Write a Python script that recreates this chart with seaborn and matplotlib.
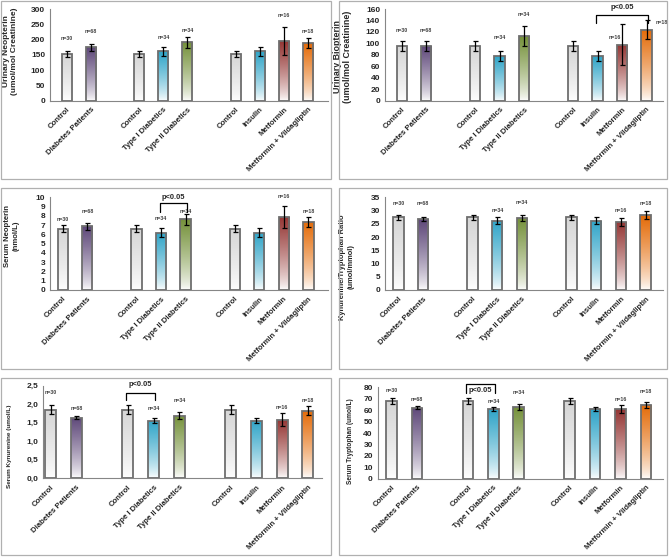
import numpy as np
import pandas as pd
import matplotlib
matplotlib.use('Agg')
import matplotlib.pyplot as plt
import seaborn as sns
from matplotlib.colors import LinearSegmentedColormap
from matplotlib.patches import Rectangle
from matplotlib.ticker import FuncFormatter

sns.set_theme(style='white')
plt.rcParams['font.family'] = ['Liberation Sans', 'DejaVu Sans']

# ---- data ----
bar_keys = ["ctrl_a", "dp", "ctrl_b", "t1", "t2", "ctrl_c", "ins", "met", "mv"]
slot_order = ["ctrl_a", "dp", "gap_a", "ctrl_b", "t1", "t2", "gap_b", "ctrl_c", "ins", "met", "mv"]
bar_labels = ["Control", "Diabetes Patients", "Control", "Type I Diabetics", "Type II Diabetics",
              "Control", "Insulin", "Metformin", "Metformin + Vildagliptin"]
n_text = ["n=30", "n=68", "", "n=34", "n=34", "", "", "n=16", "n=18"]

neopterin_urine = [153, 175, 153, 161, 192, 153, 161, 196, 188]
neopterin_urine_err = [10, 12, 10, 16, 18, 10, 16, 45, 17]
biopterin_urine = [96, 96, 96, 78, 113, 96, 78, 98, 124]
biopterin_urine_err = [9, 9, 9, 8, 18, 9, 8, 35, 17]
neopterin_serum = [6.62, 6.87, 6.62, 6.19, 7.63, 6.62, 6.19, 7.88, 7.34]
neopterin_serum_err = [0.35, 0.4, 0.35, 0.45, 0.6, 0.35, 0.45, 1.15, 0.55]
kyn_trp_ratio = [27.4, 26.7, 27.4, 26.1, 27.1, 27.4, 26.1, 25.7, 28.3]
kyn_trp_ratio_err = [1.1, 0.8, 1.1, 1.3, 1.1, 1.1, 1.3, 1.6, 1.6]
kyn_serum = [1.85, 1.64, 1.85, 1.55, 1.69, 1.85, 1.55, 1.58, 1.82]
kyn_serum_err = [0.12, 0.05, 0.12, 0.07, 0.1, 0.12, 0.07, 0.17, 0.12]
trp_serum = [68, 62.2, 68, 61, 62.8, 68, 61, 60.7, 64.8]
trp_serum_err = [3, 1.5, 3, 2, 2.5, 3, 2, 3.5, 2.5]

top_colors = {"ctrl_a": "#d6d6d6", "ctrl_b": "#d6d6d6", "ctrl_c": "#d6d6d6",
              "dp": "#5f497a", "t1": "#31a5c8", "ins": "#31a5c8",
              "t2": "#76923c", "met": "#953735", "mv": "#e46c0a"}

W, H = 669, 557

# layout per panel: axes box in px (left, right, top, bottom), xlim, label coords,
# n-label heights, brackets (from, to, top, leg bottom, text y)
panels = [
    dict(vals=neopterin_urine, errs=neopterin_urine_err, ylim=300, step=50,
         ylabel="Urinary Neopterin\n(umol/mol Creatinine)", lab_fs=6.0,
         box=(50, 328, 9, 100.7), xlim=(-0.70, 10.83), lab=(-0.115, 0.54),
         frame=(1, 331, 1, 179),
         n_y=[204, 228, None, 207, 229, None, None, 280, 228], n_dx={}, bracket=None),
    dict(vals=biopterin_urine, errs=biopterin_urine_err, ylim=160, step=20,
         ylabel="Urinary Biopterin\n(umol/mol Creatinine)", lab_fs=6.4,
         box=(385, 663, 9, 100.7), xlim=(-0.68, 10.67), lab=(-0.119, 0.48),
         frame=(339, 667, 1, 179),
         n_y=[123, 123, None, 110, 151, None, None, 110, 137], n_dx={"met": -0.3, "mv": 0.6},
         bracket=("ins", "mv", 150, 136, 163)),
    dict(vals=neopterin_serum, errs=neopterin_serum_err, ylim=10, step=1,
         ylabel="Serum Neopterin\n(nmol/L)", lab_fs=5.6,
         box=(50, 328, 197.3, 290), xlim=(-0.52, 10.8), lab=(-0.11, 0.58),
         frame=(1, 331, 188, 369),
         n_y=[7.6, 8.45, None, 7.7, 8.5, None, None, 10.1, 8.5], n_dx={},
         bracket=("t1", "t2", 9.35, 8.45, 10.0)),
    dict(vals=kyn_trp_ratio, errs=kyn_trp_ratio_err, ylim=35, step=5,
         ylabel="Kynurenine/Tryptophan Ratio\n(umol/mmol)", lab_fs=5.4,
         box=(385, 663, 197.3, 290), xlim=(-0.54, 10.7), lab=(-0.11, 0.25),
         frame=(339, 667, 188, 369),
         n_y=[32.5, 32.5, None, 30.2, 33.1, None, None, 30.2, 32.5], n_dx={}, bracket=None),
    dict(vals=kyn_serum, errs=kyn_serum_err, ylim=2.5, step=0.5,
         ylabel="Serum Kynurenine (umol/L)", comma=True, lab_fs=4.6,
         box=(43, 322, 385.7, 478.3), xlim=(-0.3, 10.55), lab=(-0.11, 0.35),
         frame=(1, 331, 378, 555),
         n_y=[2.31, 1.89, None, 1.89, 2.09, None, None, 1.92, 2.1], n_dx={},
         bracket=("ctrl_b", "t1", 2.31, 2.11, 2.52)),
    dict(vals=trp_serum, errs=trp_serum_err, ylim=80, step=10,
         ylabel="Serum Tryptophan (umol/L)", lab_fs=4.7,
         box=(377.7, 663, 387.3, 478.7), xlim=(-0.55, 10.67), lab=(-0.083, 0.41),
         frame=(339, 667, 378, 555),
         n_y=[77, 69.5, None, 68, 75.3, None, None, 69.5, 76.2], n_dx={},
         bracket=("ctrl_b", "t1", 82.6, 75.3, 77.0)),
]

fig = plt.figure(figsize=(W / 100, H / 100), dpi=100)
fig.patch.set_facecolor('white')
grad = (np.linspace(0, 1, 100) ** 0.75).reshape(-1, 1)
axis_gray = '#868686'

for spec in panels:
    x0, x1, y0, y1 = spec['frame']
    fig.add_artist(Rectangle((x0 / W, 1 - y1 / H), (x1 - x0) / W, (y1 - y0) / H,
                             transform=fig.transFigure, fill=False, ec='#b0b0b0', lw=0.9))
    l, r, t, b = spec['box']
    ax = fig.add_axes([l / W, 1 - b / H, (r - l) / W, (b - t) / H])

    df = pd.DataFrame({"group": bar_keys, "value": spec['vals']})
    sns.barplot(data=df, x="group", y="value", order=slot_order, hue="group",
                palette=top_colors, width=0.42, edgecolor='#6e6e6e', linewidth=1.3,
                legend=False, ax=ax)

    # map each bar to its key via its slot position
    centers = {}
    for p in ax.patches:
        cx = p.get_x() + p.get_width() / 2
        key = slot_order[int(round(cx))]
        centers[key] = cx
        cmap = LinearSegmentedColormap.from_list(key, ['#ffffff', top_colors[key]])
        im = ax.imshow(grad, extent=[p.get_x(), p.get_x() + p.get_width(), 0, p.get_height()],
                       origin='lower', aspect='auto', cmap=cmap, vmin=0, vmax=1, zorder=1.5)
        im.set_clip_path(p)
        p.set_facecolor('none')
        p.set_zorder(2)

    xs = [centers[k] for k in bar_keys]
    ax.errorbar(xs, spec['vals'], yerr=spec['errs'], fmt='none', ecolor='black',
                elinewidth=0.9, capsize=1.8, capthick=0.9, zorder=3)

    for k, txt, ny in zip(bar_keys, n_text, spec['n_y']):
        if txt and ny is not None:
            ax.text(centers[k] + spec['n_dx'].get(k, 0), ny, txt, ha='center', va='center',
                    fontsize=3.8, fontweight='bold', color='#404040')

    if spec['bracket']:
        ka, kb, top, leg, ty = spec['bracket']
        xa, xb = centers[ka] - 0.06, centers[kb] + 0.06
        ax.plot([xa, xa, xb, xb], [leg, top, top, leg], color='black', lw=0.9,
                clip_on=False, zorder=4)
        ax.text((xa + xb) / 2, ty, "p<0.05", ha='center', va='center',
                fontsize=5.4, fontweight='bold', clip_on=False)

    ax.set_xlim(*spec['xlim'])
    ax.set_ylim(0, spec['ylim'])
    ax.set_yticks(np.arange(0, spec['ylim'] + spec['step'] / 2, spec['step']))
    if spec.get('comma'):
        ax.yaxis.set_major_formatter(FuncFormatter(lambda v, _: f"{v:.1f}".replace('.', ',')))
    else:
        ax.yaxis.set_major_formatter(FuncFormatter(lambda v, _: f"{v:g}"))
    ax.set_xticks(xs)
    ax.set_xticklabels(bar_labels, rotation=45, ha='right', rotation_mode='anchor',
                       fontsize=5.6, fontweight='bold')
    ax.tick_params(axis='x', length=0, pad=4)
    ax.tick_params(axis='y', length=2, width=0.7, color=axis_gray, pad=1.5, direction='out',
                   labelsize=6)
    for lab in ax.get_yticklabels():
        lab.set_fontweight('bold')
    ax.set_xlabel('')
    ax.set_ylabel(spec['ylabel'], fontsize=spec['lab_fs'], fontweight='bold', linespacing=1.2)
    ax.yaxis.set_label_coords(*spec['lab'])
    sns.despine(ax=ax)
    for s in ('left', 'bottom'):
        ax.spines[s].set_color(axis_gray)
        ax.spines[s].set_linewidth(0.8)
    ax.set_facecolor('none')

fig.savefig('out.png', dpi=100, facecolor='white')
